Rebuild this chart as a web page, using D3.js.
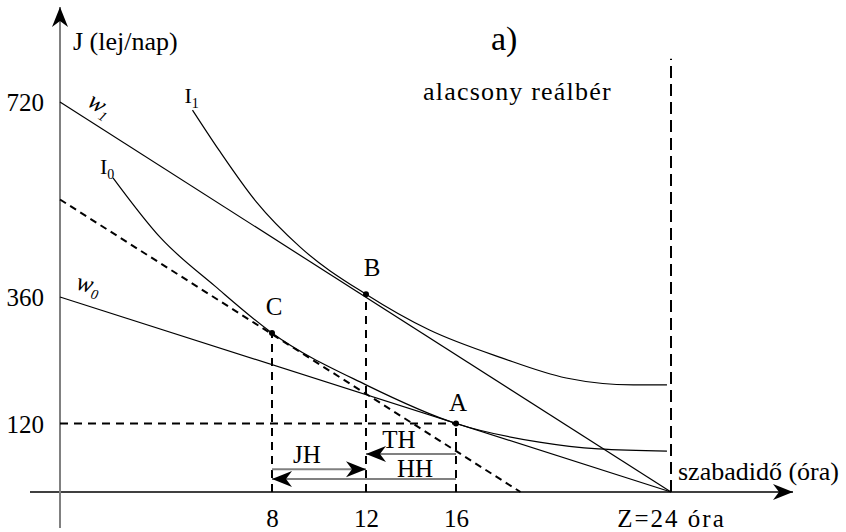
<!DOCTYPE html>
<html>
<head>
<meta charset="utf-8">
<script src="https://cdn.jsdelivr.net/npm/d3@7"></script>
<style>
body{margin:0;background:#fff;}
svg text{font-family:"Liberation Serif",serif !important;fill:#000;}
</style>
</head>
<body>
<div id="graph"></div>
<script>
// free time in hours (x) against income J in lej/nap (y)
var xTicks = [8, 12, 16, 24];
var yTicks = [120, 360, 720];
var xBreaks = [0, 8, 12, 16, 24];
var yBreaks = [0, 120, 360, 720];

// budget lines and the helper (compensated) line
var lineW1 = [{x: 0, y: 720}, {x: 24, y: 0}];
var lineW0 = [{x: 0, y: 360}, {x: 24, y: 0}];
var lineHelp = [{x: 0, y: 540}, {x: 18.4, y: 0}];

// indifference curves
var curveI1 = [{x: 5.0, y: 705}, {x: 6.0, y: 631}, {x: 7.4, y: 536}, {x: 9.2, y: 452},
               {x: 12, y: 365}, {x: 14.8, y: 298}, {x: 17.7, y: 245}, {x: 20.1, y: 207},
               {x: 22.6, y: 194}, {x: 23.85, y: 194}];
var curveI0 = [{x: 2.0, y: 580}, {x: 3.8, y: 469}, {x: 5.85, y: 380}, {x: 8, y: 292},
               {x: 12, y: 194}, {x: 16, y: 121}, {x: 19.1, y: 88}, {x: 21.3, y: 76},
               {x: 23.85, y: 72}];

var points = [{name: 'A', x: 16, y: 121}, {name: 'B', x: 12, y: 365}, {name: 'C', x: 8, y: 292}];

// effect arrows
var moves = [{label: 'JH', from: 8, to: 12, y: 40},
             {label: 'TH', from: 16, to: 12, y: 67},
             {label: 'HH', from: 16, to: 8, y: 23}];

var width = 846, height = 532;
var serif = 'Liberation Serif, serif';
var x = d3.scaleLinear().domain(xBreaks).range([60, 272, 366, 456, 671]);
var y = d3.scaleLinear().domain(yBreaks).range([492, 424, 297, 102]);

var svg = d3.select('#graph').append('svg')
  .attr('width', width).attr('height', height)
  .attr('font-family', serif);

var defs = svg.append('defs');
var addHead = function(id, len, half){
  defs.append('marker')
    .attr('id', id)
    .attr('markerUnits', 'userSpaceOnUse')
    .attr('viewBox', (-len-1) + ' ' + (-half-1) + ' ' + (len+2) + ' ' + (2*half+2))
    .attr('markerWidth', len+2).attr('markerHeight', 2*half+2)
    .attr('refX', 0).attr('refY', 0)
    .attr('orient', 'auto')
    .append('path')
    .attr('d', 'M0,0L' + (-len) + ',' + (-half) + 'L' + (-len*0.7) + ',0L' + (-len) + ',' + half + 'Z')
    .attr('fill', '#000');
};
addHead('headBig', 20, 8);
addHead('headSmall', 20, 8);

var line = d3.line().x(function(d){return x(d.x)}).y(function(d){return y(d.y)});
var smooth = d3.line().x(function(d){return x(d.x)}).y(function(d){return y(d.y)}).curve(d3.curveMonotoneX);

// axes lines
svg.append('line')
  .attr('x1', 30).attr('x2', 793).attr('y1', y(0)).attr('y2', y(0))
  .attr('stroke', '#000').attr('stroke-width', 1.5)
  .attr('marker-end', 'url(#headBig)');
svg.append('line')
  .attr('x1', x(0)).attr('x2', x(0)).attr('y1', 528).attr('y2', 7)
  .attr('stroke', '#808080').attr('stroke-width', 2)
  .attr('marker-end', 'url(#headBig)');

// tick labels via d3 axes
var xAxis = d3.axisBottom(x).tickValues(xTicks).tickSize(0).tickPadding(17)
  .tickFormat(function(d){return d == 24 ? 'Z=24 óra' : d});
var gx = svg.append('g').attr('transform', 'translate(0,' + y(0) + ')').call(xAxis)
  .attr('font-family', serif);
gx.select('.domain').remove();
gx.selectAll('text').attr('font-size', 25)
  .attr('letter-spacing', function(d){return d == 24 ? 2 : null});

var yAxis = d3.axisLeft(y).tickValues(yTicks).tickSize(0).tickPadding(16);
var gy = svg.append('g').attr('transform', 'translate(' + x(0) + ',0)').call(yAxis)
  .attr('font-family', serif);
gy.select('.domain').remove();
gy.selectAll('text').attr('font-size', 25);

// vertical line at Z = 24
svg.append('line')
  .attr('x1', x(24)).attr('x2', x(24)).attr('y1', y(0)).attr('y2', y(800))
  .attr('stroke', '#000').attr('stroke-width', 2).attr('stroke-dasharray', '12,6');

// dashed guides from the points
points.forEach(function(p){
  svg.append('line')
    .attr('x1', x(p.x)).attr('x2', x(p.x)).attr('y1', y(0)).attr('y2', y(p.y))
    .attr('stroke', '#000').attr('stroke-width', 2).attr('stroke-dasharray', '8,6');
});
svg.append('line')
  .attr('x1', x(0)).attr('x2', x(16)).attr('y1', y(121)).attr('y2', y(121))
  .attr('stroke', '#000').attr('stroke-width', 2).attr('stroke-dasharray', '8,6');

// budget lines
[lineW1, lineW0].forEach(function(d){
  svg.append('path').attr('d', line(d))
    .attr('fill', 'none').attr('stroke', '#000').attr('stroke-width', 1.2);
});
svg.append('path').attr('d', line(lineHelp))
  .attr('fill', 'none').attr('stroke', '#000').attr('stroke-width', 2)
  .attr('stroke-dasharray', '7,5');

// indifference curves
[curveI1, curveI0].forEach(function(d){
  svg.append('path').attr('d', smooth(d))
    .attr('fill', 'none').attr('stroke', '#000').attr('stroke-width', 1.2);
});

// points
svg.selectAll('circle.pt').data(points).enter()
  .append('circle')
  .attr('class', 'pt')
  .attr('cx', function(d){return x(d.x)})
  .attr('cy', function(d){return y(d.y)})
  .attr('r', 3)
  .attr('fill', '#000');
svg.selectAll('text.pt').data(points).enter()
  .append('text')
  .attr('class', 'pt')
  .attr('x', function(d){return x(d.x) + (d.name == 'B' ? 6 : 2)})
  .attr('y', function(d){return y(d.y) - (d.name == 'A' ? 12 : 18)})
  .attr('text-anchor', 'middle')
  .attr('font-size', 25)
  .text(function(d){return d.name});

// effect arrows
svg.selectAll('line.move').data(moves).enter()
  .append('line')
  .attr('class', 'move')
  .attr('x1', function(d){return x(d.from)})
  .attr('x2', function(d){return x(d.to)})
  .attr('y1', function(d){return y(d.y)})
  .attr('y2', function(d){return y(d.y)})
  .attr('stroke', '#808080').attr('stroke-width', 2)
  .attr('marker-end', 'url(#headSmall)');
var moveLabelDy = {JH: -6, TH: -6, HH: -2};
svg.selectAll('text.move').data(moves).enter()
  .append('text')
  .attr('class', 'move')
  .attr('x', function(d){return (x(d.from) + x(d.to)) / 2 + (d.label == 'HH' ? 51 : -12)})
  .attr('y', function(d){return y(d.y) + moveLabelDy[d.label]})
  .attr('text-anchor', 'middle')
  .attr('font-size', 25)
  .text(function(d){return d.label});

// curve and line names
var subLabel = function(px, py, main, sub, italic, rot, size){
  var t = svg.append('text')
    .attr('x', px).attr('y', py)
    .attr('font-size', size)
    .attr('transform', rot ? 'rotate(' + rot + ',' + px + ',' + py + ')' : null);
  if (italic) t.attr('font-style', 'italic');
  t.append('tspan').text(main);
  t.append('tspan').attr('font-size', 14).attr('dy', 5).text(sub);
};
subLabel(x(curveI1[0].x) - 8, y(curveI1[0].y) - 7, 'I', '1', false, 0, 22);
subLabel(x(curveI0[0].x) - 13, y(curveI0[0].y) - 4, 'I', '0', false, 0, 22);
subLabel(x(0) + 26, y(720) + 3, 'w', '1', true, 33, 25);
subLabel(x(0) + 15, y(360) - 8, 'w', '0', true, 14, 25);

// texts
svg.append('text').attr('x', 73).attr('y', 50).attr('font-size', 26).text('J (lej/nap)');
svg.append('text').attr('x', 491).attr('y', 50).attr('font-size', 34).text('a)');
svg.append('text').attr('x', 423).attr('y', 100).attr('font-size', 26)
  .attr('letter-spacing', 1.2).text('alacsony reálbér');
svg.append('text').attr('x', 678).attr('y', 480).attr('font-size', 26).text('szabadidő (óra)');
</script>
</body>
</html>
